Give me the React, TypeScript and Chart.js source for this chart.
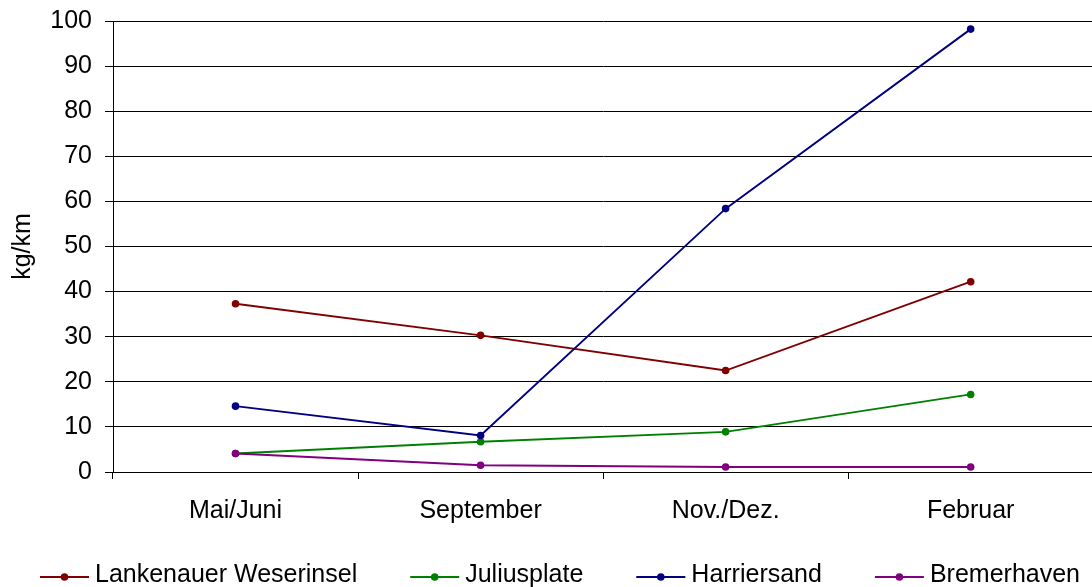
import React, { useEffect, useRef } from 'react';
import { Chart, registerables } from 'chart.js';

Chart.register(...registerables);

// Categories (sampling periods)
const categories = ['Mai/Juni', 'September', 'Nov./Dez.', 'Februar'];

// Series values in kg/km
const lankenauerWeserinsel = [37.3, 30.3, 22.5, 42.2];
const juliusplate = [4.1, 6.7, 8.9, 17.2];
const harriersand = [14.6, 8.1, 58.4, 98.2];
const bremerhaven = [4.1, 1.5, 1.1, 1.1];

const seriesNames = ['Lankenauer Weserinsel', 'Juliusplate', 'Harriersand', 'Bremerhaven'];
const seriesValues = [lankenauerWeserinsel, juliusplate, harriersand, bremerhaven];
const seriesColors = ['#800000', '#008000', '#000080', '#800080'];

// Value axis
const yMin = 0;
const yMax = 100;
const yStep = 10;
const yTitle = 'kg/km';

const FONT_FAMILY = '"Liberation Sans", Arial, Helvetica, sans-serif';
const FONT_SIZE = 25;

// Legend row under the chart: "line with dot" swatch followed by the series name
const legendRow = {
  id: 'legendRow',
  afterDraw(chart: any) {
    const ctx = chart.ctx as CanvasRenderingContext2D;
    const swatch = 49;
    const gap = 6;
    const spacing = 53;
    const textY = 575;
    const markY = 577;
    let x = 40;
    ctx.save();
    ctx.font = `${FONT_SIZE}px ${FONT_FAMILY}`;
    ctx.textBaseline = 'middle';
    ctx.textAlign = 'left';
    chart.data.datasets.forEach((ds: any) => {
      const color = ds.borderColor as string;
      ctx.strokeStyle = color;
      ctx.lineWidth = 2;
      ctx.beginPath();
      ctx.moveTo(x, markY);
      ctx.lineTo(x + swatch, markY);
      ctx.stroke();
      ctx.fillStyle = color;
      ctx.beginPath();
      ctx.arc(x + swatch / 2, markY, 3.8, 0, Math.PI * 2);
      ctx.fill();
      ctx.fillStyle = '#000';
      const tx = x + swatch + gap;
      ctx.fillText(ds.label, tx, textY);
      x = tx + ctx.measureText(ds.label).width + spacing;
    });
    ctx.restore();
  },
};

export default function App() {
  const canvasRef = useRef<HTMLCanvasElement | null>(null);

  useEffect(() => {
    if (!canvasRef.current) return;

    const chart = new Chart(canvasRef.current, {
      type: 'line',
      data: {
        labels: categories,
        datasets: seriesNames.map((name, i) => ({
          label: name,
          data: seriesValues[i],
          borderColor: seriesColors[i],
          backgroundColor: seriesColors[i],
          borderWidth: 1.9,
          pointRadius: 3.8,
          pointHoverRadius: 3.8,
          pointBorderWidth: 0,
          pointBackgroundColor: seriesColors[i],
          tension: 0,
          fill: false,
          order: seriesNames.length - i,
        })),
      },
      options: {
        responsive: false,
        animation: false,
        events: [],
        layout: {
          padding: { left: -10, top: 21, right: 0, bottom: 55 },
        },
        plugins: {
          tooltip: { enabled: false },
          legend: { display: false },
        },
        scales: {
          x: {
            type: 'category',
            offset: true,
            grid: {
              offset: true,
              drawOnChartArea: false,
              drawTicks: true,
              tickLength: 7,
              color: '#000',
              lineWidth: 1,
            },
            border: { display: true, color: '#000', width: 1 },
            ticks: {
              color: '#000',
              padding: 17,
              maxRotation: 0,
              autoSkip: false,
              font: { family: FONT_FAMILY, size: FONT_SIZE },
            },
            afterFit: (scale: any) => {
              scale.height = 60;
              scale.paddingLeft = 0;
              scale.paddingRight = 0;
            },
          },
          y: {
            min: yMin,
            max: yMax,
            grid: {
              drawOnChartArea: true,
              drawTicks: true,
              tickLength: 8,
              color: '#000',
              lineWidth: 1,
            },
            border: { display: true, color: '#000', width: 1 },
            ticks: {
              stepSize: yStep,
              color: '#000',
              padding: 13,
              font: { family: FONT_FAMILY, size: FONT_SIZE },
            },
            title: {
              display: true,
              text: yTitle,
              color: '#000',
              padding: { top: 18, bottom: 0 },
              font: { family: FONT_FAMILY, size: FONT_SIZE },
            },
            afterFit: (scale: any) => {
              scale.width = 123;
              scale.paddingTop = 0;
              scale.paddingBottom = 0;
            },
          },
        },
      },
      plugins: [legendRow],
    } as any);

    return () => chart.destroy();
  }, []);

  return (
    <div
      style={{
        position: 'fixed',
        left: 0,
        top: 0,
        width: 1092,
        height: 587,
        overflow: 'hidden',
        background: '#fff',
      }}
    >
      <canvas ref={canvasRef} width={1097} height={587} style={{ display: 'block' }} />
    </div>
  );
}
